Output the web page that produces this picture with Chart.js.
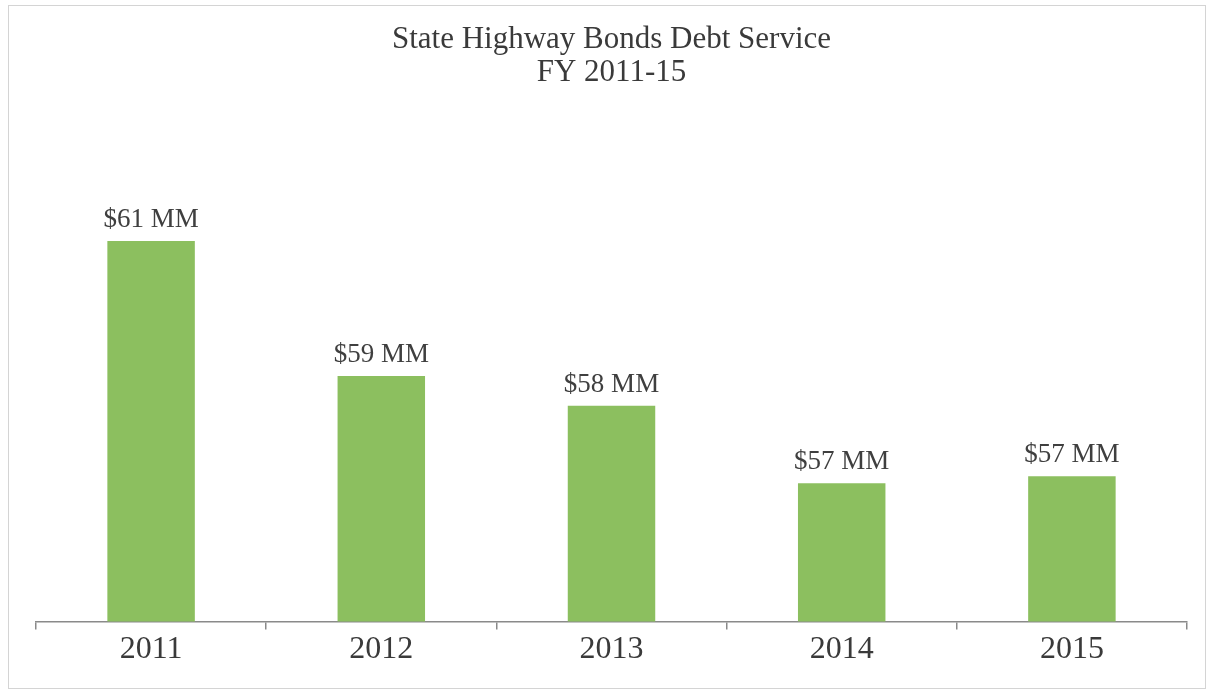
<!DOCTYPE html>
<html>
<head>
<meta charset="utf-8">
<script src="https://cdn.jsdelivr.net/npm/chart.js@4.4.0/dist/chart.umd.min.js"></script>
<style>
    html, body { margin: 0; padding: 0; background: #fff; }
    #wrap { position: relative; width: 1211px; height: 693px; }
    #frame { position: absolute; left: 8px; top: 5px; width: 1196px; height: 682px; border: 1px solid #d4d4d4; pointer-events: none; }
</style>
</head>
<body>
<div id="wrap">
    <canvas id="debtChart" width="1211" height="693"></canvas>
    <div id="frame"></div>
</div>
<script>
const years = ['2011', '2012', '2013', '2014', '2015'];
const debtService = [60.5, 58.55, 58.12, 57.0, 57.1];
const barLabels = ['$61 MM', '$59 MM', '$58 MM', '$57 MM', '$57 MM'];
const titleLines = ['State Highway Bonds Debt Service', 'FY 2011-15'];

// write the "$xx MM" text above each bar
const barValueLabels = {
    id: 'barValueLabels',
    afterDatasetsDraw(chart) {
        const ctx = chart.ctx;
        const meta = chart.getDatasetMeta(0);
        ctx.save();
        ctx.font = '27px "Liberation Serif", "Times New Roman", serif';
        ctx.fillStyle = '#3f3f3f';
        ctx.textAlign = 'center';
        ctx.textBaseline = 'alphabetic';
        meta.data.forEach((bar, i) => {
            ctx.fillText(barLabels[i], bar.x, bar.y - 14);
        });
        ctx.restore();
    }
};

new Chart(document.getElementById('debtChart').getContext('2d'), {
    type: 'bar',
    data: {
        labels: years,
        datasets: [{
            data: debtService,
            backgroundColor: '#8cbf5f',
            borderWidth: 0,
            categoryPercentage: 1,
            barPercentage: 0.38
        }]
    },
    options: {
        responsive: false,
        animation: false,
        layout: { padding: { left: 36, right: 24, top: 0, bottom: 23 } },
        plugins: {
            legend: { display: false },
            tooltip: { enabled: false },
            title: {
                display: true,
                text: titleLines,
                color: '#3a3a3a',
                font: { family: '"Liberation Serif", "Times New Roman", serif', size: 31, weight: 'normal', lineHeight: 1.07 },
                padding: { top: 23, bottom: 48 }
            }
        },
        scales: {
            y: {
                display: false,
                min: 55,
                max: 62
            },
            x: {
                border: { display: true, color: '#8a8a8a', width: 1.5 },
                grid: { display: true, drawOnChartArea: false, drawTicks: true, tickLength: 8, color: '#8a8a8a', lineWidth: 1.5, offset: true },
                ticks: {
                    color: '#3a3a3a',
                    padding: 1,
                    font: { family: '"Liberation Serif", "Times New Roman", serif', size: 32 }
                }
            }
        }
    },
    plugins: [barValueLabels]
});
</script>
</body>
</html>
